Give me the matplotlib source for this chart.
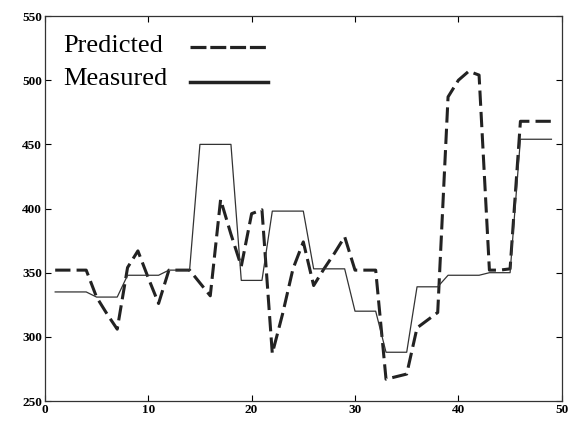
import matplotlib.pyplot as plt

# Dados.
x = list(range(1, 50))
medido = [335, 335, 335, 335, 331, 331, 331, 348, 348, 348,
          348, 352, 352, 352, 450, 450, 450, 450, 344, 344,
          344, 398, 398, 398, 398, 353, 353, 353, 353, 320,
          320, 320, 288, 288, 288, 339, 339, 339, 348, 348,
          348, 348, 350, 350, 350, 454, 454, 454, 454]
previsto = [352, 352, 352, 352, 331, 318, 306, 354, 367, 346,
            326, 352, 352, 352, 342, 332, 407, 380, 355, 396,
            399, 287, 318, 353, 374, 340, 353, 365, 378, 352,
            352, 352, 267, 269, 271, 307, 313, 319, 487, 500,
            507, 504, 352, 352, 353, 468, 468, 468, 468]

xticks = [0, 10, 20, 30, 40, 50]
yticks = [250, 300, 350, 400, 450, 500, 550]

cor_prev = '#222222'
cor_med = '#333333'
tracejado = (0, (5, 2))

fig = plt.figure(figsize=(5.75, 4.23), dpi=100)
ax = fig.add_axes([0.078, 0.052, 0.899, 0.910])

ax.plot(x, previsto, color=cor_prev, linewidth=2.2, linestyle=tracejado)
ax.plot(x, medido, color=cor_med, linewidth=0.9)

ax.set_xlim(0, 50)
ax.set_ylim(250, 550)
ax.set_xticks(xticks)
ax.set_yticks(yticks)
ax.tick_params(direction='in', top=True, right=True, length=4, width=0.8,
               labelsize=9.5, pad=2)
for lab in ax.get_xticklabels() + ax.get_yticklabels():
    lab.set_fontfamily('Liberation Serif')
    lab.set_fontweight('bold')
for s in ax.spines.values():
    s.set_linewidth(0.9)
    s.set_color('#333333')

# Legenda manual: texto à esquerda, amostra da linha à direita.
fonte = {'family': 'Liberation Serif', 'size': 19}
ax.text(0.035, 0.906, 'Predicted', transform=ax.transAxes, ha='left',
        va='baseline', fontdict=fonte)
ax.text(0.035, 0.820, 'Measured', transform=ax.transAxes, ha='left',
        va='baseline', fontdict=fonte)
ax.plot([0.280, 0.431], [0.919, 0.919], transform=ax.transAxes,
        color=cor_prev, linewidth=2.3, linestyle=(0, (5, 1.2)))
ax.plot([0.280, 0.431], [0.829, 0.829], transform=ax.transAxes,
        color=cor_prev, linewidth=2.5)

plt.savefig('out.png', dpi=100)
